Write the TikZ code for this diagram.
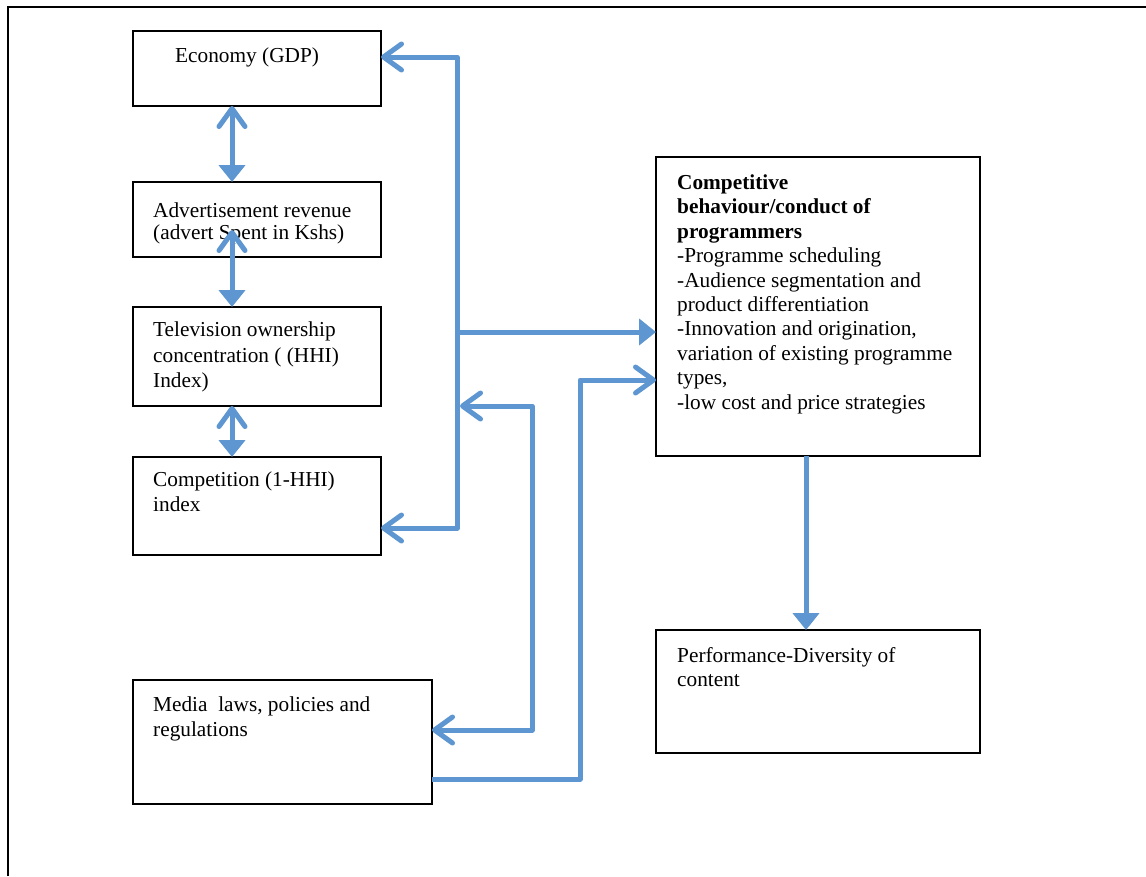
\documentclass[tikz,border=0pt]{standalone}
\usepackage{fontspec}
\setmainfont{Liberation Serif}
\usetikzlibrary{arrows.meta}
\definecolor{linkblue}{RGB}{93,150,208}

\begin{document}
\begin{tikzpicture}[
    x=1pt, y=-1pt,
    font=\fontsize{21.3}{24.4}\selectfont,
    box/.style={
      draw=black,
      line width=2pt,
      inner sep=0pt,
      outer sep=0pt
    },
    lbl/.style={anchor=north west, align=left, inner sep=0pt},
    link/.style={draw=linkblue, line width=5pt, line join=round},
    chev/.tip={Straight Barb[length=18pt,width=26pt,line cap=round,line join=round]},
    head/.tip={Triangle[length=17pt,width=26pt]}
  ]
  \useasboundingbox (0,0) rectangle (1146,876);

  \begin{scope}
    % outer frame
    \draw[line width=2.5pt] (8,876) -- (8,7) -- (1146,7);

    % boxes on the left
    \node[box, minimum width=248pt, minimum height=75pt] (econ) at (257,68.5) {};
    \node[box, minimum width=248pt, minimum height=75pt] (adv) at (257,219.5) {};
    \node[box, minimum width=248pt, minimum height=99pt] (tv) at (257,356.5) {};
    \node[box, minimum width=248pt, minimum height=98pt] (comp) at (257,506) {};
    \node[box, minimum width=299pt, minimum height=124pt] (media) at (282.5,742) {};

    % boxes on the right
    \node[box, minimum width=324pt, minimum height=299pt] (conduct) at (818,306.5) {};
    \node[box, minimum width=324pt, minimum height=123pt] (perf) at (818,691.5) {};

    % texts
    \node[lbl] (econ-t) at (175,47.5) {Economy (GDP)};
    \node[lbl, font=\fontsize{21.3}{22}\selectfont] (adv-t) at (153,202.5)
      {Advertisement revenue\\(advert Spent in Kshs)};
    \node[lbl, font=\fontsize{21.3}{25.5}\selectfont] (tv-t) at (153,322)
      {Television ownership\\concentration ( (HHI)\\Index)};
    \node[lbl, font=\fontsize{21.3}{25}\selectfont] (comp-t) at (153,472)
      {Competition (1-HHI)\\index};
    \node[lbl, font=\fontsize{21.3}{25}\selectfont] (media-t) at (153,697)
      {Media~ laws, policies and\\regulations};
    \node[lbl] (conduct-t) at (677,174.5) {\textbf{Competitive}\\
      \textbf{behaviour/conduct of}\\\textbf{programmers}\\
      -Programme scheduling\\-Audience segmentation and\\
      product differentiation\\-Innovation and origination,\\
      variation of existing programme\\types,\\
      -low cost and price strategies};
    \node[lbl] (perf-t) at (677,647) {Performance-Diversity of\\content};

    % arrows between the left boxes
    \coordinate (lx) at (232,0);
    \draw[link, chev-head] (lx |- econ.south) -- (lx |- adv.north);
    \draw[link, chev-head] ([yshift=27pt]lx |- adv.south) -- (lx |- tv.north);
    \draw[link, chev-head] (lx |- tv.south) -- (lx |- comp.north);

    % bus on the right of the left boxes
    \coordinate (bus-top) at (457,57);
    \coordinate (bus-bot) at (457,528);
    \coordinate (bus-mid) at (457,332);
    \draw[link, chev-chev] ([yshift=-26pt]econ.north east) -- (bus-top)
      -- (bus-bot) -- ([yshift=-71pt]comp.north east);
    \draw[link, -head] (bus-mid) -- ([yshift=-175pt]conduct.north west);

    % media laws
    \coordinate (bus-in) at (460,406);
    \coordinate (ret) at (532,406);
    \coordinate (up) at (580,380);
    \draw[link, chev-chev] (bus-in) -- (ret) |- ([yshift=-50pt]media.north east);
    \draw[link, -chev] ([yshift=25pt]media.south east) -| (up)
      -- ([yshift=-223pt]conduct.north west);

    % conduct to performance
    \draw[link, -head] ([xshift=-12pt]conduct.south) -- ([xshift=-12pt]perf.north);
  \end{scope}
\end{tikzpicture}
\end{document}
